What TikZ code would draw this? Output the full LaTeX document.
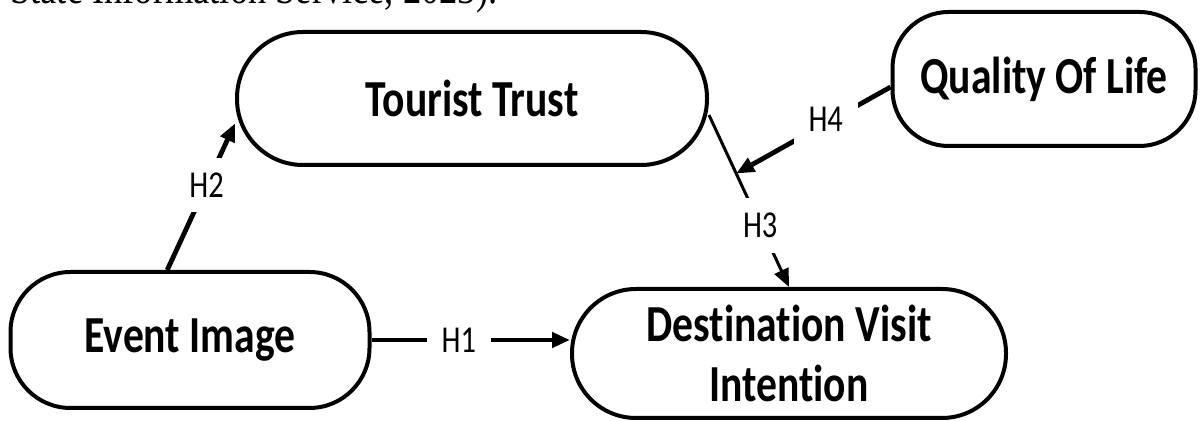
\documentclass[tikz,border=0pt]{standalone}
\usepackage{fontspec}
\setmainfont{Liberation Serif}
\newfontfamily\boxfont{Carlito}[FakeStretch=0.8, Ligatures=NoCommon]
\newfontfamily\srcfont{Liberation Serif}[FakeStretch=0.81]
\usetikzlibrary{arrows.meta}
\tikzset{
  factor/.style = 	{shape=rectangle, draw, line width=2pt, align=center,
				font=\boxfont\bfseries\fontsize{26}{30}\selectfont},
  hyp/.style = 	{-{Triangle[length=9pt,width=7.5pt]}, line width=2.4pt},
  hlabel/.style = 	{fill=white, inner sep=7.5pt, font=\boxfont\fontsize{19}{19}\selectfont},
}

\begin{document}
\begin{tikzpicture}[x=0.5pt, y=-0.5pt]
	\useasboundingbox (0,0) rectangle (1200,421);
	\node [anchor=base west, inner sep=0pt, font=\srcfont\fontsize{22.5}{26}\selectfont] (src) at (10,4) {State Information Service, 2023).};
	\node [factor, minimum width=235pt, minimum height=66.5pt, rounded corners=33pt] (tt) at (472,98.5) {Tourist Trust};
	\node [factor, minimum width=151.5pt, minimum height=67pt, rounded corners=28pt] (qol) at (1044,79) {Quality Of Life};
	\node [factor, minimum width=179.5pt, minimum height=68pt, rounded corners=30pt] (ei) at (190,340) {Event Image};
	\node [factor, minimum width=217pt, minimum height=64.5pt, rounded corners=32pt] (dvi) at (789,353.5) {Destination Visit\\Intention};
	% hypotheses
	\draw [hyp] (ei.east) -- node [hlabel, pos=0.44] {H1} (ei.east -| dvi.west);
	\draw [hyp] (ei.108) -- node [hlabel, pos=0.58] {H2} (tt.186);
	\draw [hyp, line width=1.5pt] (tt.-4) -- node [hlabel, pos=0.64] {H3} coordinate [pos=0.34] (h4end) (dvi.north);
	% moderation onto H3
	\draw [hyp] (qol.183) -- node [hlabel, pos=0.42, yshift=2pt] {H4} (h4end);
\end{tikzpicture}
\end{document}
